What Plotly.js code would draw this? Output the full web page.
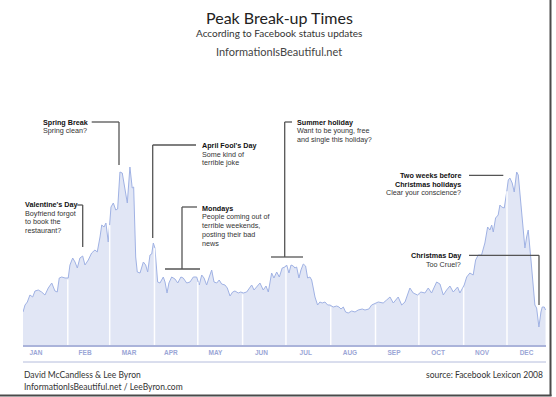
<!DOCTYPE html>
<html>
<head>
<meta charset="utf-8">
<script src="https://cdn.plot.ly/plotly-3.0.1.min.js"></script>
<style>
html,body{margin:0;padding:0;background:#fff;}
#chart{width:556px;height:397px;}
</style>
</head>
<body>
<div id="chart"></div>
<script>
// ---- data (day of year 2008, relative break-up mentions) ----
const day = [0,1.4,3.0,4.8,6.7,8.3,10.6,12.9,15.2,17.5,
19.9,21.0,22.1,23.7,25.1,26.8,29.1,31.3,32.5,34.4,
36.0,37.6,39.4,41.3,42.9,45.2,47.5,49.8,51.4,53.3,
54.5,56.1,57.4,59.0,60.9,62.5,64.2,65.5,67.1,68.7,
70.6,72.2,74.0,75.6,76.6,78.0,79.1,81.0,83.3,84.9,
86.3,87.9,89.1,90.2,91.3,93.2,94.8,97.1,98.3,99.7,
101.0,102.9,105.2,107.1,109.3,110.9,113.3,115.6,117.9,120.2,
122.0,123.7,125.3,127.1,128.9,130.6,132.2,134.1,135.8,137.5,
139.8,141.4,143.3,145.1,146.7,149.0,150.7,152.5,154.8,157.1,
158.3,159.9,161.7,164.0,166.3,168.2,169.8,172.1,173.7,175.6,
177.4,179.4,181.3,182.5,184.1,185.5,187.1,188.2,189.4,191.0,
192.4,194.0,195.6,197.0,198.6,199.8,200.9,202.1,203.9,205.5,
207.1,209.0,210.9,212.5,214.7,217.1,218.7,220.1,221.7,223.3,
225.1,227.5,229.8,232.0,234.8,236.7,239.4,241.3,245.9,249.3,
251.7,254.0,256.3,259.7,262.1,264.4,267.8,270.1,273.1,275.4,
278.2,280.5,282.8,286.3,288.6,290.9,293.2,295.5,297.8,300.8,
302.4,305.4,307.1,309.3,311.6,313.3,315.1,317.4,319.7,321.6,
323.2,324.4,325.5,327.1,328.9,330.1,331.3,333.1,334.7,335.9,
337.0,338.6,340.0,341.7,342.8,343.9,345.1,346.2,347.4,348.6,
349.7,351.6,353.2,354.3,355.5,357.1,358.5,359.4,360.8,361.7];

const value = [33,40,43,50,48,54,55,53,50,57,
62,57,54,53,67,68,67,67,80,87,
83,77,87,89,80,85,92,95,93,108,
120,118,122,103,138,142,135,136,173,172,
153,142,178,157,158,88,73,72,83,80,
73,90,91,102,97,63,62,68,63,52,
62,68,66,62,68,67,62,63,68,68,
60,70,67,60,68,75,63,62,65,61,
60,57,49,53,54,52,53,52,53,57,
60,55,58,62,55,59,53,72,67,73,
68,77,78,80,72,80,79,77,78,67,
75,81,79,67,68,65,57,48,40,43,
42,43,40,40,38,39,38,36,38,33,
32,34,33,35,36,35,36,40,43,42,
45,48,42,48,40,43,57,52,50,53,
52,57,52,63,61,50,55,59,53,58,
52,60,68,72,70,85,90,90,102,118,
115,120,113,127,130,140,138,137,152,165,
167,162,153,173,170,153,135,112,97,108,
115,85,58,40,37,18,33,38,38,35];

const months = ["JAN","FEB","MAR","APR","MAY","JUN","JUL","AUG","SEP","OCT","NOV","DEC"];
const monthStartDays = [31,60,91,121,152,182,213,244,274,305,335];

const callouts = [
  {name:"Valentine's Day", notes:["Boyfriend forgot","to book the","restaurant?"]},
  {name:"Spring Break", notes:["Spring clean?"]},
  {name:"April Fool's Day", notes:["Some kind of","terrible joke"]},
  {name:"Mondays", notes:["People coming out of","terrible weekends,","posting their bad","news"]},
  {name:"Summer holiday", notes:["Want to be young, free","and single this holiday?"]},
  {name:"Two weeks before|Christmas holidays", notes:["Clear your conscience?"]},
  {name:"Christmas Day", notes:["Too Cruel?"]}
];

// ---- layout geometry (pixels) ----
const W = 556, H = 397;
const L = 23, R = 546, T = 60, B = 345;
const XMAX = 362, YMAX = B - T;
const px = x => (x - L) / (R - L);
const py = y => (B - y) / (B - T);
const tickDays = [9,43,73.4,102.4,133.2,165,195.7,226.3,256.8,287.3,317.7,348.5];

// callout placement: text anchor & leader lines (pixel positions)
const calloutGeom = [
  {x:23, y:204.3, anchor:'left', lines:[[[77.3,205],[82.7,205],[82.7,247]]]},
  {x:41, y:122, anchor:'left', lines:[[[91.7,122],[119,122],[119,165]]]},
  {x:200, y:145.3, anchor:'left', lines:[[[196,145],[152.7,145],[152.7,238]]]},
  {x:200, y:208, anchor:'left', lines:[[[197,207],[182,207],[182,269]],[[165,269],[200,269]]]},
  {x:294.7, y:122, anchor:'left', lines:[[[292,122],[284.7,122],[284.7,257]],[[271,257],[303,257]]]},
  {x:463.3, y:175.3, anchor:'right', lines:[[[469,175.3],[503.3,175.3]]]},
  {x:463.3, y:255.3, anchor:'right', lines:[[[469,255.3],[539,255.3],[539,305]]]}
];

function interp(d){
  for(let i=1;i<day.length;i++){
    if(day[i]>=d){
      const t=(d-day[i-1])/(day[i]-day[i-1]);
      return value[i-1]+t*(value[i]-value[i-1]);
    }
  }
  return value[value.length-1];
}

const shapes = [];
const annotations = [];

// month separators inside the fill
monthStartDays.forEach(d=>{
  shapes.push({type:'line', xref:'x', yref:'y', x0:d, x1:d, y0:0, y1:interp(d)-1.5,
    line:{color:'rgba(255,255,255,0.95)', width:1.5}, layer:'above'});
});

const LINE_H = 8.8;
const textFont = "Liberation Sans, Arial, sans-serif";
callouts.forEach((c,i)=>{
  const g = calloutGeom[i];
  const heads = c.name.split('|');
  const all = heads.map(h=>({t:h,b:true})).concat(c.notes.map(n=>({t:n,b:false})));
  all.forEach((ln,k)=>{
    annotations.push({xref:'paper', yref:'paper', x:px(g.x), y:py(g.y + k*LINE_H),
      xanchor:g.anchor, yanchor:'middle', showarrow:false,
      text: ln.b ? '<b>'+ln.t+'</b>' : ln.t,
      font:{family:textFont, size:7.2, color: ln.b ? '#111' : '#333'}});
  });
  g.lines.forEach(pl=>{
    for(let k=1;k<pl.length;k++){
      shapes.push({type:'line', xref:'paper', yref:'paper',
        x0:px(pl[k-1][0]), y0:py(pl[k-1][1]), x1:px(pl[k][0]), y1:py(pl[k][1]),
        line:{color:'#555', width:1.3}});
    }
  });
});

// titles
const titleFont = "Lato, 'Open Sans', sans-serif";
annotations.push({xref:'paper', yref:'paper', x:px(279), y:py(18), xanchor:'center', yanchor:'middle', showarrow:false,
  text:'Peak Break-up Times', font:{family:titleFont, size:16, color:'#222'}});
annotations.push({xref:'paper', yref:'paper', x:px(279), y:py(33.5), xanchor:'center', yanchor:'middle', showarrow:false,
  text:'According to Facebook status updates', font:{family:titleFont, size:10, color:'#333'}});
annotations.push({xref:'paper', yref:'paper', x:px(279), y:py(51.5), xanchor:'center', yanchor:'middle', showarrow:false,
  text:'InformationIsBeautiful.net', font:{family:titleFont, size:11, color:'#444'}});

// footer
annotations.push({xref:'paper', yref:'paper', x:px(22), y:py(375), xanchor:'left', yanchor:'middle', showarrow:false,
  text:'David McCandless &amp; Lee Byron', font:{family:titleFont, size:8.5, color:'#333'}});
annotations.push({xref:'paper', yref:'paper', x:px(22), y:py(386.5), xanchor:'left', yanchor:'middle', showarrow:false,
  text:'InformationIsBeautiful.net / LeeByron.com', font:{family:titleFont, size:8.5, color:'#333'}});
annotations.push({xref:'paper', yref:'paper', x:px(545), y:py(375), xanchor:'right', yanchor:'middle', showarrow:false,
  text:'source: Facebook Lexicon 2008', font:{family:titleFont, size:8.5, color:'#333'}});

// footer divider
shapes.push({type:'line', xref:'paper', yref:'paper', x0:0, x1:1, y0:py(362), y1:py(362),
  line:{color:'#b4bcdc', width:1}});
// frame shadow (right and bottom)
shapes.push({type:'line', xref:'paper', yref:'paper', x0:px(550.5), x1:px(550.5), y0:py(0), y1:py(396),
  line:{color:'#4a4a4a', width:2}});
shapes.push({type:'line', xref:'paper', yref:'paper', x0:px(0), x1:px(551.5), y0:py(395.5), y1:py(395.5),
  line:{color:'#4a4a4a', width:2}});

const trace = {
  x: day, y: value, type:'scatter', mode:'lines',
  fill:'tozeroy', fillcolor:'rgb(225,230,245)',
  line:{color:'rgb(160,178,228)', width:1},
  hoverinfo:'skip'
};

const layout = {
  width:W, height:H,
  margin:{l:L, r:W-R, t:T, b:H-B, pad:0},
  paper_bgcolor:'#fff', plot_bgcolor:'#fff',
  showlegend:false,
  xaxis:{range:[0,XMAX], showgrid:false, zeroline:false, showline:true,
    linecolor:'#aab3da', linewidth:2, ticks:'', tickvals:tickDays, ticktext:months,
    tickfont:{family:"Liberation Sans, Arial, sans-serif", size:6.5, color:'#9ba6d6', weight:'bold'},
    fixedrange:true},
  yaxis:{range:[0,YMAX], visible:false, fixedrange:true},
  shapes:shapes, annotations:annotations
};

Plotly.newPlot('chart', [trace], layout, {displayModeBar:false, staticPlot:true});
</script>
</body>
</html>
